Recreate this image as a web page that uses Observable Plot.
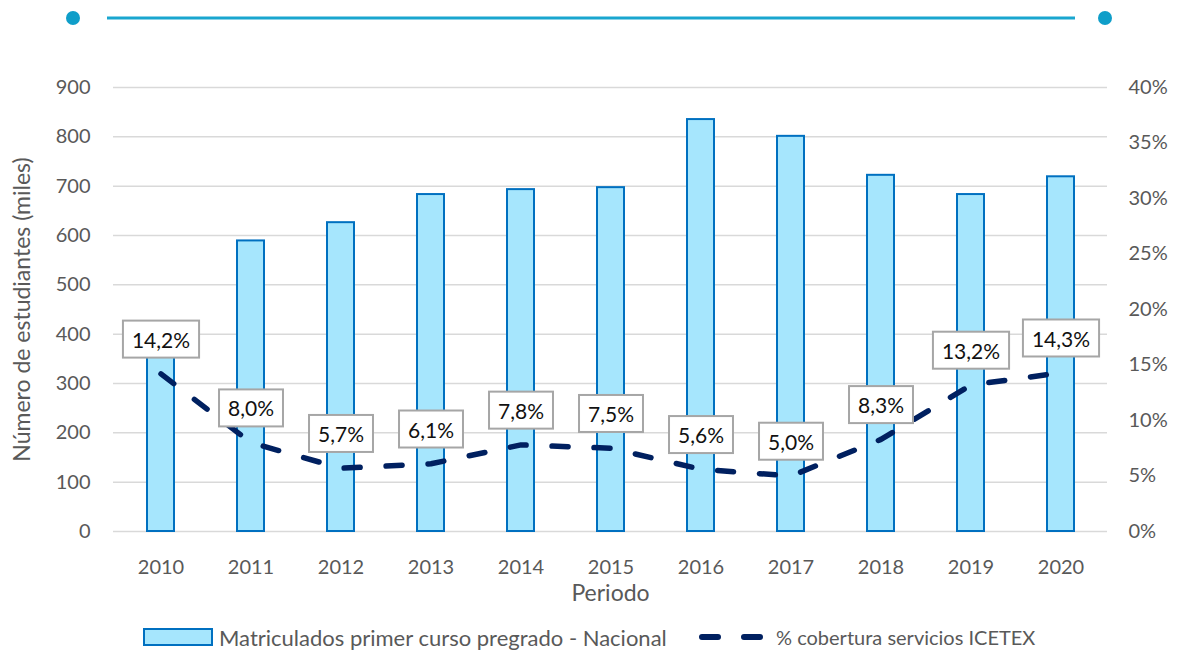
<!DOCTYPE html>
<html>
<head>
<meta charset="utf-8">
<script src="https://cdn.jsdelivr.net/npm/d3@7"></script>
<script src="https://cdn.jsdelivr.net/npm/@observablehq/plot@0.6"></script>
<style>
  html, body { margin: 0; padding: 0; background: #fff; }
  body { width: 1177px; height: 650px; position: relative; overflow: hidden; font-family: Lato, "Open Sans", sans-serif; }
  #deco { position: absolute; left: 0; top: 0; }
  #chart { position: absolute; left: 0; top: 36px; }
  .legend { position: absolute; top: 624px; height: 26px; display: flex; align-items: center; font-size: 21px; color: #595959; white-space: nowrap; }
</style>
</head>
<body>
<svg id="deco" width="1177" height="36">
  <line x1="107" x2="1075" y1="18" y2="18" stroke="#1aa6cf" stroke-width="3"/>
  <circle cx="73" cy="18" r="7" fill="#0f9ec9"/>
  <circle cx="1105" cy="18" r="7" fill="#0f9ec9"/>
</svg>
<div id="chart"></div>
<div class="legend" style="left:143px">
  <svg width="70" height="18" style="margin-right:6px"><rect x="1" y="1" width="68" height="16" fill="#a6e6fd" stroke="#0070c0" stroke-width="2"/></svg>
  <span style="font-size:22px">Matriculados primer curso pregrado - Nacional</span>
</div>
<div class="legend" style="left:698px">
  <svg width="66" height="18" style="margin-right:12px"><line x1="4" x2="62" y1="9" y2="9" stroke="#002060" stroke-width="6" stroke-linecap="round" stroke-dasharray="16,26"/></svg>
  <span style="font-size:20px">% cobertura servicios ICETEX</span>
</div>
<script>
const years = [2010, 2011, 2012, 2013, 2014, 2015, 2016, 2017, 2018, 2019, 2020];
const matriculados = [370, 589, 626, 683, 693, 697, 835, 801, 722, 683, 719];
const cobertura = [14.2, 8.0, 5.7, 6.1, 7.8, 7.5, 5.6, 5.0, 8.3, 13.2, 14.3];
const leftTicks = [0, 100, 200, 300, 400, 500, 600, 700, 800, 900];
const rightTicks = [0, 5, 10, 15, 20, 25, 30, 35, 40];
const leftMax = 900, rightMax = 40;
const k = leftMax / rightMax;

const data = years.map((y, i) => ({year: String(y), m: matriculados[i], p: cobertura[i]}));
const fmtPct = d => d.toFixed(1).replace(".", ",") + "%";

const plot = Plot.plot({
  width: 1177,
  height: 574,
  marginTop: 51,
  marginBottom: 79,
  marginLeft: 113,
  marginRight: 70,
  style: {fontFamily: "Lato, 'Open Sans', sans-serif", fontSize: "20px", color: "#595959", background: "transparent", overflow: "visible"},
  x: {type: "band", domain: years.map(String), paddingInner: 0.701, paddingOuter: 0.3505, label: null},
  y: {domain: [0, leftMax], label: null},
  marks: [
    Plot.gridY(leftTicks, {stroke: "#d9d9d9", strokeOpacity: 1, strokeWidth: 1.5}),
    Plot.axisY(leftTicks, {tickSize: 0, tickPadding: 23, fill: "#595959", fontSize: 20, label: null}),
    Plot.axisY(rightTicks.map(d => d * k), {anchor: "right", tickSize: 0, tickPadding: 21, fill: "#595959", fontSize: 20, label: null, tickFormat: d => Math.round(d / k) + "%"}),
    Plot.axisX({tickSize: 0, tickPadding: 28, fill: "#595959", fontSize: 20, label: null}),
    Plot.barY(data, {x: "year", y: "m", fill: "#a6e6fd", stroke: "#0070c0", strokeWidth: 2}),
    Plot.line(data, {x: "year", y: d => d.p * k, stroke: "#002060", strokeWidth: 5.5, strokeDasharray: "16,26", strokeLinecap: "round", strokeLinejoin: "round"}),
    Plot.text(data, {x: "year", y: d => d.p * k, text: d => fmtPct(d.p), dy: -33, fontSize: 21, fill: "#111", className: "pct-label"}),
    Plot.text(["Periodo"], {frameAnchor: "bottom", lineAnchor: "middle", textAnchor: "middle", dy: 62, fontSize: 23, fill: "#595959"}),
    Plot.text(["Número de estudiantes (miles)"], {frameAnchor: "left", textAnchor: "middle", lineAnchor: "middle", dx: -91, rotate: -90, fontSize: 23, fill: "#595959"})
  ]
});
document.getElementById("chart").appendChild(plot);

// white boxes with gray border behind percentage labels
d3.select(plot).selectAll("g.pct-label text").each(function() {
  const bb = this.getBBox();
  const padX = 9, padY = 7;
  const r = document.createElementNS("http://www.w3.org/2000/svg", "rect");
  r.setAttribute("x", bb.x - padX);
  r.setAttribute("y", bb.y - padY + 1);
  r.setAttribute("width", bb.width + 2 * padX);
  r.setAttribute("height", bb.height + 2 * padY - 2);
  r.setAttribute("fill", "#fff");
  r.setAttribute("stroke", "#a6a6a6");
  r.setAttribute("stroke-width", "2");
  const t = this.getAttribute("transform");
  if (t) r.setAttribute("transform", t);
  this.parentNode.insertBefore(r, this);
});
</script>
</body>
</html>
